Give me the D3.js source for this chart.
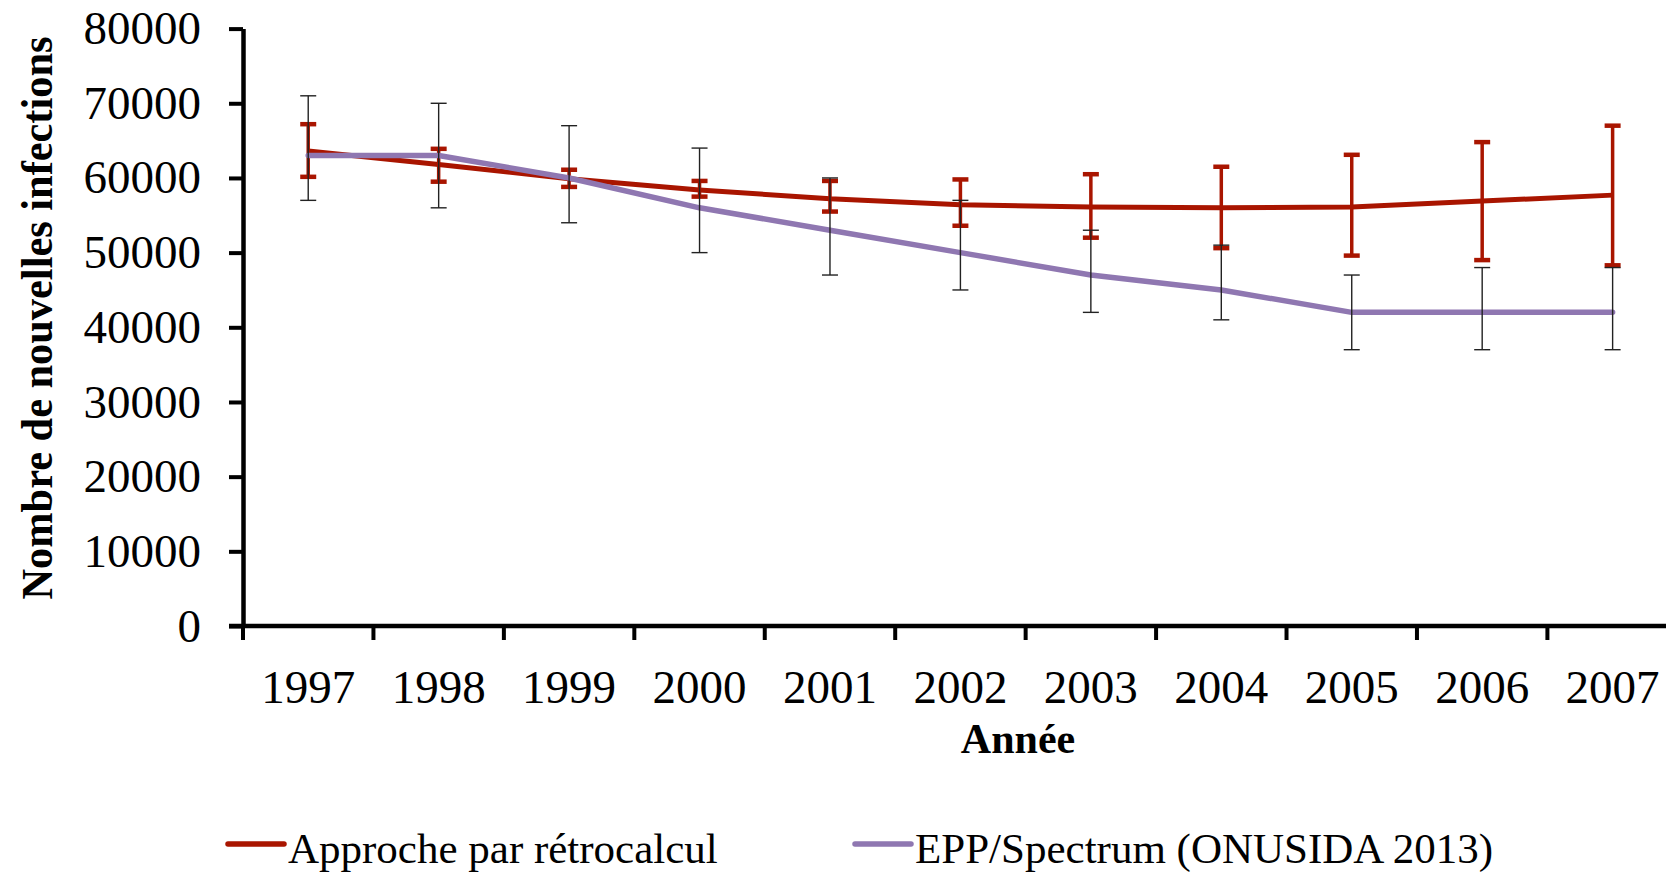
<!DOCTYPE html>
<html>
<head>
<meta charset="utf-8">
<script src="https://cdn.jsdelivr.net/npm/d3@7"></script>
<style>
  body { margin: 0; background: #fff; }
  svg { display: block; font-family: "Liberation Serif", "Times New Roman", serif; }
</style>
</head>
<body>
<div id="graph1"></div>
<script>

// data
var years = [1997, 1998, 1999, 2000, 2001, 2002, 2003, 2004, 2005, 2006, 2007];
var retro     = [63600, 61800, 59900, 58400, 57200, 56400, 56100, 56000, 56100, 56900, 57700];
var retroLow  = [60150, 59500, 58800, 57500, 55500, 53600, 52000, 50600, 49600, 49000, 48300];
var retroHigh = [67200, 63900, 61100, 59600, 59600, 59800, 60500, 61500, 63100, 64800, 67000];
var epp     = [63000, 63000, 60000, 56000, 53000, 50000, 47000, 45000, 42000, 42000, 42000];
var eppLow  = [57000, 56000, 54000, 50000, 47000, 45000, 42000, 41000, 37000, 37000, 37000];
var eppHigh = [71000, 70000, 67000, 64000, 60000, 57000, 53000, 51000, 47000, 48000, 48000];
var yTicks = [0, 10000, 20000, 30000, 40000, 50000, 60000, 70000, 80000];
var seriesNames = ["Approche par rétrocalcul", "EPP/Spectrum (ONUSIDA 2013)"];

var width1 = 1666, height1 = 872;
var red = "#a91500", purple = "#8f77b1";

var svg1 = d3.select("#graph1")
  .append("svg")
    .attr("width", width1)
    .attr("height", height1);

var x1 = d3.scaleBand()
  .domain(years)
  .range([243, 243 + 11 * 130.44])
  .paddingInner(0).paddingOuter(0);

var y1 = d3.scaleLinear()
  .domain([0, 80000])
  .range([626, 28.6]);

var cx = function(i) { return x1(years[i]) + x1.bandwidth() / 2; };

// y axis
var yAxis = svg1.append("g")
  .attr("transform", "translate(243,0)")
  .call(d3.axisLeft(y1).tickValues(yTicks).tickSize(14).tickSizeOuter(0).tickPadding(28).tickFormat(d3.format("d")));
yAxis.select(".domain").attr("stroke", "#000").attr("stroke-width", 4.5);
yAxis.selectAll(".tick line").attr("stroke", "#000").attr("stroke-width", 4);
yAxis.selectAll(".tick text")
  .attr("font-family", "Liberation Serif, serif")
  .attr("font-size", 47)
  .attr("fill", "#000");

// x axis (labels centred in bands)
var xAxis = svg1.append("g")
  .attr("transform", "translate(0,626)")
  .call(d3.axisBottom(x1).tickSize(0).tickSizeOuter(0).tickPadding(44));
xAxis.select(".domain").remove();
xAxis.selectAll(".tick text")
  .attr("font-family", "Liberation Serif, serif")
  .attr("font-size", 47)
  .attr("fill", "#000");

svg1.append("line")
  .attr("x1", 229).attr("x2", width1)
  .attr("y1", y1(0)).attr("y2", y1(0))
  .attr("stroke", "#000").attr("stroke-width", 4.5);

// boundary ticks between categories
svg1.append("g").selectAll("line")
  .data(years)
  .enter().append("line")
    .attr("x1", function(d) { return x1(d); })
    .attr("x2", function(d) { return x1(d); })
    .attr("y1", y1(0))
    .attr("y2", y1(0) + 14)
    .attr("stroke", "#000")
    .attr("stroke-width", 4);

var idx = d3.range(years.length);

var line1 = d3.line()
  .x(function(i) { return cx(i); });

// red series
svg1.append("path")
  .datum(idx)
  .attr("fill", "none")
  .attr("stroke", red)
  .attr("stroke-width", 5)
  .attr("stroke-linejoin", "round")
  .attr("d", line1.y(function(i) { return y1(retro[i]); }));

var errRed = svg1.append("g").attr("stroke", red);
errRed.selectAll(".v").data(idx).enter().append("line")
  .attr("x1", cx).attr("x2", cx)
  .attr("y1", function(i) { return y1(retroLow[i]); })
  .attr("y2", function(i) { return y1(retroHigh[i]); })
  .attr("stroke-width", 3.5);
errRed.selectAll(".c").data(idx.concat(idx)).enter().append("line")
  .attr("x1", function(i) { return cx(i) - 8; })
  .attr("x2", function(i) { return cx(i) + 8; })
  .attr("y1", function(i, k) { return y1(k < years.length ? retroLow[i] : retroHigh[i]); })
  .attr("y2", function(i, k) { return y1(k < years.length ? retroLow[i] : retroHigh[i]); })
  .attr("stroke-width", 4.5);

// purple series
svg1.append("path")
  .datum(idx)
  .attr("fill", "none")
  .attr("stroke", purple)
  .attr("stroke-width", 5.5)
  .attr("stroke-linecap", "round")
  .attr("stroke-linejoin", "round")
  .attr("d", line1.y(function(i) { return y1(epp[i]); }));

var errEpp = svg1.append("g").attr("stroke", "#222").attr("stroke-width", 1.4);
errEpp.selectAll(".v").data(idx).enter().append("line")
  .attr("x1", cx).attr("x2", cx)
  .attr("y1", function(i) { return y1(eppLow[i]); })
  .attr("y2", function(i) { return y1(eppHigh[i]); });
errEpp.selectAll(".c").data(idx.concat(idx)).enter().append("line")
  .attr("x1", function(i) { return cx(i) - 8; })
  .attr("x2", function(i) { return cx(i) + 8; })
  .attr("y1", function(i, k) { return y1(k < years.length ? eppLow[i] : eppHigh[i]); })
  .attr("y2", function(i, k) { return y1(k < years.length ? eppLow[i] : eppHigh[i]); });

// axis titles
svg1.append("text")
  .attr("x", 1018)
  .attr("y", 753)
  .attr("text-anchor", "middle")
  .attr("font-weight", "bold")
  .attr("font-size", 42)
  .text("Année");

svg1.append("text")
  .attr("transform", "translate(52,318) rotate(-90)")
  .attr("text-anchor", "middle")
  .attr("font-weight", "bold")
  .attr("font-size", 44)
  .attr("textLength", 563)
  .attr("lengthAdjust", "spacingAndGlyphs")
  .text("Nombre de nouvelles infections");

// legend
var legend = [
  {name: seriesNames[0], color: red, x: 228},
  {name: seriesNames[1], color: purple, x: 855}
];
var lg = svg1.append("g").selectAll("g").data(legend).enter().append("g")
  .attr("transform", function(d) { return "translate(" + d.x + ",844)"; });
lg.append("line")
  .attr("x1", 0).attr("x2", 56)
  .attr("stroke", function(d) { return d.color; })
  .attr("stroke-width", 5.5)
  .attr("stroke-linecap", "round");
lg.append("text")
  .attr("x", 60)
  .attr("y", 19)
  .attr("font-size", 43)
  .text(function(d) { return d.name; });

</script>
</body>
</html>
